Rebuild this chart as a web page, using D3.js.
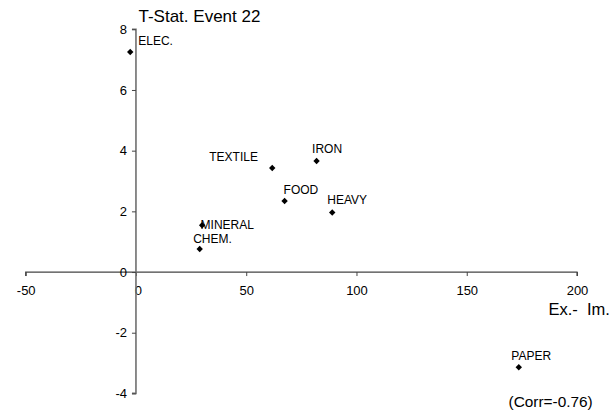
<!DOCTYPE html>
<html>
<head>
<meta charset="utf-8">
<script src="https://cdn.jsdelivr.net/npm/d3@7"></script>
<style>
  html, body { margin: 0; padding: 0; background: #fff; }
  svg { display: block; font-family: "Liberation Sans", Arial, Helvetica, sans-serif; }
</style>
</head>
<body>
<svg id="chart" width="611" height="414"></svg>
<script>
// ---- data ----
const sectors = ["ELEC.", "TEXTILE", "IRON", "FOOD", "HEAVY", "MINERAL", "CHEM.", "PAPER"];
const exMinusIm = [-2.6, 61.8, 81.9, 67.4, 89.0, 30.0, 28.9, 173.6];
const tStat = [7.25, 3.43, 3.66, 2.34, 1.96, 1.54, 0.76, -3.14];
const xTicks = [-50, 0, 50, 100, 150, 200];
const yTicks = [-4, -2, 0, 2, 4, 6, 8];
const titleText = "T-Stat. Event 22";
const xAxisTitle = "Ex.-  Im.";
const noteText = "(Corr=-0.76)";

// label placement (layout, not data)
const labelOffsets = {
  "ELEC.":   [8, -11],
  "TEXTILE": [-63, -11],
  "IRON":    [-4.5, -12],
  "FOOD":    [-1, -11],
  "HEAVY":   [-5, -12.5],
  "MINERAL": [-1.5, -1],
  "CHEM.":   [-6.5, -10.5],
  "PAPER":   [-7.5, -12]
};

const svg = d3.select("#chart");
const x = d3.scaleLinear().domain([-50, 200]).range([25.7, 577]);
const y = d3.scaleLinear().domain([-4, 8]).range([393.4, 29.3]);
const fmt = d => String(d);

// x axis at y=0
const xAxis = svg.append("g")
  .attr("transform", `translate(0,${y(0)})`)
  .call(d3.axisBottom(x).tickValues(xTicks).tickSize(4).tickPadding(10).tickFormat(fmt));
xAxis.select(".domain").attr("stroke", "#444").attr("stroke-width", 1.2).attr("d", `M${x(-50)},4V0H${x(200)}V4`);
xAxis.selectAll(".tick line").attr("stroke", "#444");
xAxis.selectAll(".tick text").attr("font-size", 13).attr("fill", "#000").attr("font-family", "Liberation Sans, Arial, sans-serif");
xAxis.selectAll(".tick").filter(d => d === 0).select("text").attr("dx", 2);

// y axis at x=0
const yAxis = svg.append("g")
  .attr("transform", `translate(${x(0)},0)`)
  .call(d3.axisLeft(y).tickValues(yTicks).tickSize(4).tickPadding(5).tickFormat(fmt));
yAxis.select(".domain").attr("stroke", "#707070").attr("stroke-width", 1.6).attr("d", `M-4,${y(8)}H0V${y(-4)}H-4`);
yAxis.selectAll(".tick line").attr("stroke", "#444");
yAxis.selectAll(".tick text").attr("font-size", 13).attr("fill", "#000").attr("font-family", "Liberation Sans, Arial, sans-serif");

// points
const pts = sectors.map((s, i) => ({ name: s, xv: exMinusIm[i], yv: tStat[i] }));
svg.append("g").selectAll("path").data(pts).join("path")
  .attr("d", d3.symbol().type(d3.symbolDiamond2).size(26))
  .attr("transform", d => `translate(${x(d.xv)},${y(d.yv)})`)
  .attr("fill", "#000");

// labels
svg.append("g").selectAll("text").data(pts).join("text")
  .attr("x", d => x(d.xv) + labelOffsets[d.name][0])
  .attr("y", d => y(d.yv) + labelOffsets[d.name][1])
  .attr("dy", "0.35em")
  .attr("font-size", 12)
  .attr("fill", "#000")
  .text(d => d.name);

// title
svg.append("text").attr("x", 138.5).attr("y", 16).attr("dy", "0.35em")
  .attr("font-size", 17).attr("fill", "#000").text(titleText);

// x axis title
svg.append("text").attr("x", 548.5).attr("y", 309).attr("dy", "0.35em")
  .attr("font-size", 16.5).attr("fill", "#000").style("white-space", "pre").text(xAxisTitle);

// correlation note
svg.append("text").attr("x", 508.5).attr("y", 401.5).attr("dy", "0.35em")
  .attr("font-size", 15.4).attr("fill", "#000").text(noteText);
</script>
</body>
</html>
